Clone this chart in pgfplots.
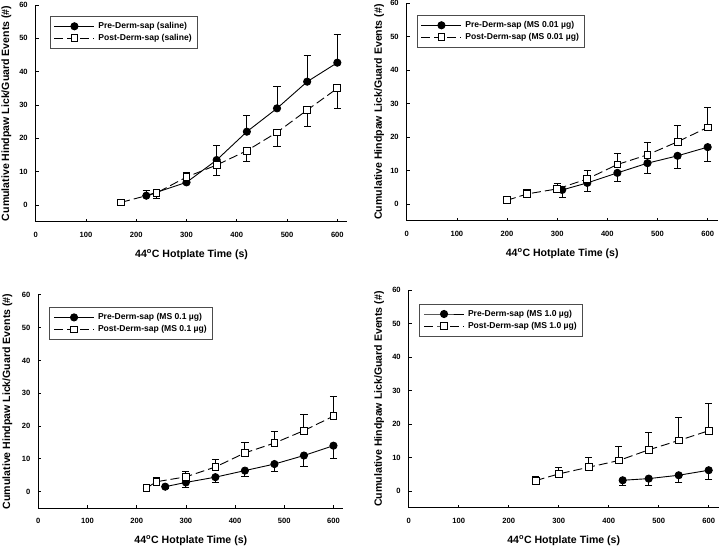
\documentclass[border=0pt]{standalone}
\usepackage{pgfplots}
\pgfplotsset{compat=1.18}
\usepackage{fontspec}
\setmainfont{Liberation Sans}

\pgfplotsset{
 panel/.style={
  scale only axis, xmin=0,xmax=620,ymin=-5,ymax=60,
  axis x line*=bottom, axis y line*=left,
  xtick={0,100,...,600}, ytick={0,10,...,60},
  tick align=inside, major tick length=3bp,
  axis line style={line width=0.9bp,black},
  every tick/.style={black,line width=0.7bp},
  /pgf/number format/assume math mode=true,
  ticklabel style={font=\bfseries\fontsize{7.6}{8}\selectfont},
  xticklabel style={yshift=-6.5bp},
  yticklabel style={xshift=-4.5bp},
  xlabel={44\textsuperscript{o}C Hotplate Time (s)},
  ylabel={Cumulative Hindpaw Lick/Guard Events (\#)},
  label style={font=\bfseries\fontsize{10.6}{12}\selectfont},
  xlabel style={at={(axis description cs:0.5,0)},anchor=center,yshift=-32.5bp},
  legend cell align=left,
  legend style={anchor=north west, at={(axis description cs:0,1)}, draw=black!70, line width=0.6bp,
    font=\bfseries\fontsize{8.6}{9}\selectfont, inner xsep=4bp, inner ysep=4bp, row sep=0bp, column sep=2bp,
    nodes={inner sep=1.5bp, text height=6.5bp, text depth=2.5bp}},
 },
 limg/.style={legend image code/.code={\draw[mark repeat=2,mark phase=2] plot coordinates {(0bp,0bp) (20bp,0bp) (40bp,0bp)};}},
 pre/.style={black, line width=0.9bp, mark=*, mark size=3.6bp, mark options={solid, fill=black}, limg},
 post/.style={black, line width=0.9bp, dash pattern=on 9bp off 4bp, mark=square*, mark size=3.4bp, mark options={solid, fill=white}, limg},
 ebar/.style={error bars/y dir=both, error bars/y explicit,
   error bars/error bar style={line width=0.9bp, solid, black},
   error bars/error mark=-,
   error bars/error mark options={rotate=90, line width=0.9bp, mark size=3.6bp, black, solid}},
}

\begin{document}
\begin{tikzpicture}
\useasboundingbox (0,0) rectangle (720bp,546bp);

% Panel 1
\begin{axis}[panel, at={(35.7bp,324.3bp)}, anchor=south west, width=311.7bp, height=216.7bp,
  ylabel style={at={(axis description cs:-0.0937,0.5)},anchor=center},
  legend style={xshift=14bp, yshift=-11bp}]
\addplot[pre, ebar] table[x=x,y=y,y error plus=ep,y error minus=em,row sep=\\] {
x y ep em\\ 220 2.8 1.7 0\\ 300 6.8 3.0 0\\ 360 13.5 4.5 0\\ 420 22 5 0\\ 480 29 6.5 0\\ 540 37 8 0\\ 600 42.7 8.4 0\\};
\addlegendentry{Pre-Derm-sap (saline)}
\addplot[post, ebar] table[x=x,y=y,y error plus=ep,y error minus=em,row sep=\\] {
x y ep em\\ 170 0.8 0 0\\ 240 3.6 0 1.6\\ 300 8.4 0 1.5\\ 360 12 0 3\\ 420 16.3 0 3.3\\ 480 21.8 0 4.1\\ 540 28.5 0 5\\ 600 35 0 6\\};
\addlegendentry{Post-Derm-sap (saline)}
\end{axis}

% Panel 2
\begin{axis}[panel, at={(406.7bp,325.3bp)}, anchor=south west, width=311bp, height=217.4bp,
  ylabel style={at={(axis description cs:-0.089,0.5)},anchor=center},
  legend style={xshift=10bp, yshift=-11.7bp}]
\addplot[pre, ebar] table[x=x,y=y,y error plus=ep,y error minus=em,row sep=\\] {
x y ep em\\ 310 4.2 0 2.2\\ 360 6.3 0 2.5\\ 420 9.3 0 2.6\\ 480 12.2 0 3.2\\ 540 14.4 0 3.7\\ 600 17 0 4.4\\};
\addlegendentry{Pre-Derm-sap (MS 0.01 µg)}
\addplot[post, ebar] table[x=x,y=y,y error plus=ep,y error minus=em,row sep=\\] {
x y ep em\\ 200 1.1 0 0\\ 240 3 1.3 0\\ 300 4.5 1.5 0\\ 360 7.5 2.4 0\\ 420 11.8 3.3 0\\ 480 14.7 3.7 0\\ 540 18.6 4.9 0\\ 600 22.9 6.1 0\\};
\addlegendentry{Post-Derm-sap (MS 0.01 µg)}
\end{axis}

% Panel 3
\begin{axis}[panel, at={(38.3bp,38bp)}, anchor=south west, width=305bp, height=213.2bp,
  ylabel style={at={(axis description cs:-0.1016,0.5)},anchor=center},
  legend style={xshift=11bp, yshift=-12.3bp}]
\addplot[pre, ebar] table[x=x,y=y,y error plus=ep,y error minus=em,row sep=\\] {
x y ep em\\ 258 1.5 0 0.5\\ 300 2.8 0 1.4\\ 360 4.4 0 1.6\\ 420 6.4 0 1.9\\ 480 8.4 0 2.2\\ 540 11 0 3.2\\ 600 14 0 3.8\\};
\addlegendentry{Pre-Derm-sap (MS 0.1 µg)}
\addplot[post, ebar] table[x=x,y=y,y error plus=ep,y error minus=em,row sep=\\] {
x y ep em\\ 220 1.1 0 0\\ 240 3 1.3 0\\ 300 4.5 1.5 0\\ 360 7.5 2.3 0\\ 420 11.8 3.2 0\\ 480 14.8 3.6 0\\ 540 18.6 4.9 0\\ 600 23 6 0\\};
\addlegendentry{Post-Derm-sap (MS 0.1 µg)}
\end{axis}

% Panel 4
\begin{axis}[panel, at={(408.7bp,38.3bp)}, anchor=south west, width=310bp, height=217.4bp,
  ylabel style={at={(axis description cs:-0.095,0.5)},anchor=center},
  legend style={xshift=10.6bp, yshift=-13.4bp}]
\addplot[pre, ebar] table[x=x,y=y,y error plus=ep,y error minus=em,row sep=\\] {
x y ep em\\ 428 3.2 0 1.6\\ 480 3.7 0 1.9\\ 540 4.7 0 2.2\\ 600 6.2 0 2.7\\};
\addlegendentry{Pre-Derm-sap (MS 1.0 µg)}
\addplot[post, ebar] table[x=x,y=y,y error plus=ep,y error minus=em,row sep=\\] {
x y ep em\\ 254 3.1 1.2 0\\ 300 5.1 1.9 0\\ 360 7.1 2.9 0\\ 420 9.1 4.1 0\\ 480 12.3 5.3 0\\ 540 15.1 6.9 0\\ 600 18 8.3 0\\};
\addlegendentry{Post-Derm-sap (MS 1.0 µg)}
\end{axis}
\end{tikzpicture}
\end{document}
